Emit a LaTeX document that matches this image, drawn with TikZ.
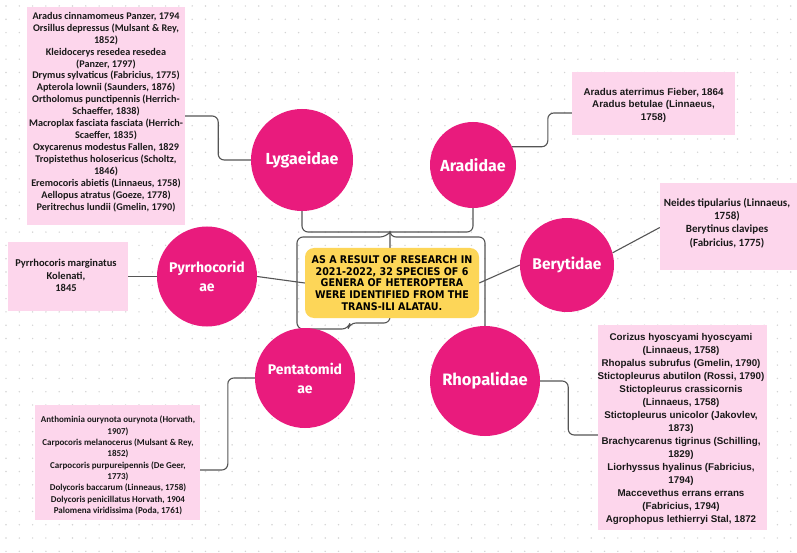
\documentclass[tikz,border=0pt]{standalone}
\usepackage{fontspec}
\setmainfont{Carlito}
\newfontfamily\libsans{Liberation Sans}
\newfontfamily\firasans{Fira Sans}
\newfontfamily\condsans{DejaVu Sans Condensed}
\usetikzlibrary{backgrounds}
\definecolor{mag}{RGB}{233,27,125}
\definecolor{pinkbg}{RGB}{253,214,236}
\definecolor{yel}{RGB}{253,214,88}
\definecolor{conncol}{RGB}{85,85,85}
\definecolor{dotcol}{RGB}{212,212,212}
\definecolor{txtcol}{RGB}{25,25,25}
\begin{document}
\begin{tikzpicture}[x=1pt,y=-1pt,
  circ/.style={circle,fill=mag,inner sep=0,text=white,align=center},
  circfont/.style={font=\firasans\bfseries\fontsize{#1}{19}\selectfont},
  pbox/.style={rectangle,fill=pinkbg,inner sep=0},
  ptext/.style={inner sep=0,align=center,text=txtcol},
  conn/.style={draw=conncol,line width=1.1pt,rounded corners=6pt}]
\useasboundingbox (0,0) rectangle (797,553);
\begin{pgfonlayer}{background}
\fill[white] (0,0) rectangle (797,553);
\foreach \i in {0,...,59}{\foreach \j in {0,...,41}{\fill[dotcol] (6+13.3*\i,6+13.3*\j) circle (0.8pt);}}
\end{pgfonlayer}

% boxes
\node[pbox,minimum width=158pt,minimum height=218pt] (lygbox) at (106,116) {};
\node[ptext,font=\bfseries\fontsize{10.2}{11.94}\selectfont] (lygtxt) at (106,112) {Aradus cinnamomeus Panzer, 1794\\Orsillus depressus (Mulsant \& Rey,\\1852)\\Kleidocerys resedea resedea\\(Panzer, 1797)\\Drymus sylvaticus (Fabricius, 1775)\\Apterola lownii (Saunders, 1876)\\Ortholomus punctipennis (Herrich-\\Schaeffer, 1838)\\Macroplax fasciata fasciata (Herrich-\\Scaeffer, 1835)\\Oxycarenus modestus Fallen, 1829\\Tropistethus holosericus (Scholtz,\\1846)\\Eremocoris abietis (Linnaeus, 1758)\\Aellopus atratus (Goeze, 1778)\\Peritrechus lundii (Gmelin, 1790)};

\node[pbox,minimum width=163pt,minimum height=63pt] (aradbox) at (653.5,103.5) {};
\node[ptext,font=\libsans\bfseries\fontsize{9.8}{12.5}\selectfont] (aradtxt) at (653.5,105) {Aradus aterrimus Fieber, 1864\\Aradus betulae (Linnaeus,\\1758)};

\node[pbox,minimum width=137pt,minimum height=87pt] (berybox) at (728.5,226.5) {};
\node[ptext,font=\bfseries\fontsize{11}{13.3}\selectfont] (berytxt) at (727,223) {Neides tipularius (Linnaeus,\\1758)\\Berytinus clavipes\\(Fabricius, 1775)};

\node[pbox,minimum width=120pt,minimum height=69pt] (pyrbox) at (68,276.5) {};
\node[ptext,font=\bfseries\fontsize{10.5}{12.5}\selectfont] (pyrtxt) at (66,275.5) {Pyrrhocoris marginatus\\Kolenati,\\1845};

\node[pbox,minimum width=165pt,minimum height=115pt] (pentbox) at (117.5,462.5) {};
\node[ptext,font=\bfseries\fontsize{9}{11.3}\selectfont] (penttxt) at (118,465.5) {Anthominia ourynota ourynota (Horvath,\\1907)\\Carpocoris melanocerus (Mulsant \& Rey,\\1852)\\Carpocoris purpureipennis (De Geer,\\1773)\\Dolycoris baccarum (Linneaus, 1758)\\Dolycoris penicillatus Horvath, 1904\\Palomena viridissima (Poda, 1761)};

\node[pbox,minimum width=169pt,minimum height=205pt] (rhobox) at (682.5,427.5) {};
\node[ptext,font=\libsans\bfseries\fontsize{9.8}{13}\selectfont] (rhotxt) at (681,429) {Corizus hyoscyami hyoscyami\\(Linnaeus, 1758)\\Rhopalus subrufus (Gmelin, 1790)\\Stictopleurus abutilon (Rossi, 1790)\\Stictopleurus crassicornis\\(Linnaeus, 1758)\\Stictopleurus unicolor (Jakovlev,\\1873)\\Brachycarenus tigrinus (Schilling,\\1829)\\Liorhyssus hyalinus (Fabricius,\\1794)\\Maccevethus errans errans\\(Fabricius, 1794)\\Agrophopus lethierryi Stal, 1872};

% center
\node[fill=yel,rounded corners=9pt,minimum width=174pt,minimum height=70pt,inner sep=0,align=center,text=black,font=\condsans\bfseries\fontsize{10.6}{11.6}\selectfont] (center) at (392,283) {AS A RESULT OF RESEARCH IN\\2021-2022, 32 SPECIES OF 6\\GENERA OF HETEROPTERA\\WERE IDENTIFIED FROM THE\\TRANS-ILI ALATAU.};

% circles
\node[circ,circfont=16,minimum size=102pt] (lyg) at (302,160) {Lygaeidae};
\node[circ,circfont=16,minimum size=86pt] (arad) at (473,165) {Aradidae};
\node[circ,circfont=14,minimum size=100pt] (pyr) at (207,276.5) {Pyrrhocorid\\ae};
\node[circ,circfont=15.5,minimum size=94pt] (beryt) at (567,265) {Berytidae};
\node[circ,circfont=14,minimum size=100pt] (pent) at (305,378) {Pentatomid\\ae};
\node[circ,circfont=16.5,minimum size=110pt] (rho) at (485,381) {Rhopalidae};

\coordinate (jt) at (390,232);
\coordinate (jr) at (485,237);

\begin{pgfonlayer}{background}
\draw[conn] (lygbox.east) -- ++(33,0) |- (lyg.west);
\draw[conn] ([yshift=-9.5pt]aradbox.west) -- ++(-24,0) |- (arad.25);
\draw[conn] (pyrbox.east) -- (pyr.west);
\draw[conn] (pyr.east) -- (center.west);
\draw[conn] (beryt.west) -- (center.east);
\draw[conn] (beryt.15) -- ([yshift=-1pt]berybox.west);
\draw[conn] (pent.west) -- ++(-27,0) |- ([yshift=-7.5pt]pentbox.east);
\draw[conn] (rho.east) -- ++(28,0) |- ([yshift=-7.5pt]rhobox.west);
\draw[conn] (lyg.south) |- (jt) -| (arad.south);
\draw[conn] (jt) -- (390,323) -- (350,323) -- (348,329) -- (297,329) -- (297,237) -- (386,237) -- (jt);
\draw[conn] (jt) |- (jr) -- (rho.north);
\end{pgfonlayer}
\end{tikzpicture}
\end{document}
